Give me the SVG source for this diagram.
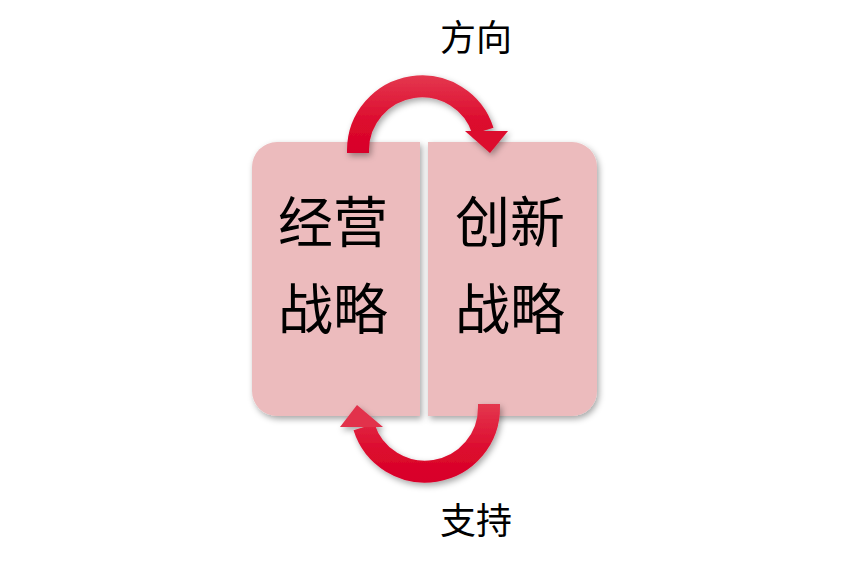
<svg xmlns="http://www.w3.org/2000/svg" width="848" height="566" viewBox="0 0 848 566">
<defs>
<style>
.box{fill:#ecbbbd;filter:url(#sh);}
.lbl{font-family:"Noto Sans CJK SC","Noto Sans CJK JP",sans-serif;font-size:55px;fill:#000;text-anchor:middle;dominant-baseline:central;}
.cap{font-family:"Noto Sans CJK SC","Noto Sans CJK JP",sans-serif;font-size:36px;fill:#000;text-anchor:middle;dominant-baseline:central;}
.band{fill:none;stroke-width:22;}
</style>
<filter id="sh" x="-20%" y="-20%" width="140%" height="140%">
<feDropShadow dx="2" dy="3" stdDeviation="3" flood-color="#000" flood-opacity="0.35"/>
</filter>
<linearGradient id="gt" x1="0" y1="75" x2="0" y2="155" gradientUnits="userSpaceOnUse">
<stop offset="0" stop-color="#e4384f"/>
<stop offset="0.6" stop-color="#dc0a2d"/>
<stop offset="1" stop-color="#d8002a"/>
</linearGradient>
<linearGradient id="gb" x1="0" y1="403" x2="0" y2="483" gradientUnits="userSpaceOnUse">
<stop offset="0" stop-color="#e4384f"/>
<stop offset="0.6" stop-color="#dc0a2d"/>
<stop offset="1" stop-color="#d8002a"/>
</linearGradient>
</defs>
<rect width="848" height="566" fill="#fff"/>
<g id="node-jingying">
<path class="box" d="M277,142 H420 V416 H277 A25,25 0 0 1 252,391 V167 A25,25 0 0 1 277,142 Z"/>
<text class="lbl" x="333" y="218">经营</text>
<text class="lbl" x="333" y="305">战略</text>
</g>
<g id="node-chuangxin">
<path class="box" d="M428,142 H572 A25,25 0 0 1 597,167 V391 A25,25 0 0 1 572,416 H428 Z"/>
<text class="lbl" x="510" y="218">创新</text>
<text class="lbl" x="510" y="305">战略</text>
</g>
<g id="connectors" filter="url(#sh)">
<g id="arrow-top">
<path class="band" stroke="url(#gt)" d="M358,153 V150 A64,64 0 0 1 483,131"/>
<polygon points="465,131 508,131 490,153" fill="#dc0a2d"/>
</g>
<g id="arrow-bottom">
<path class="band" stroke="url(#gb)" d="M489,404 V407 A64,64 0 0 1 364,427"/>
<polygon points="340,427 383,427 357,405" fill="#e2304b"/>
</g>
</g>
<text class="cap" x="476" y="35">方向</text>
<text class="cap" x="476" y="518">支持</text>
</svg>
